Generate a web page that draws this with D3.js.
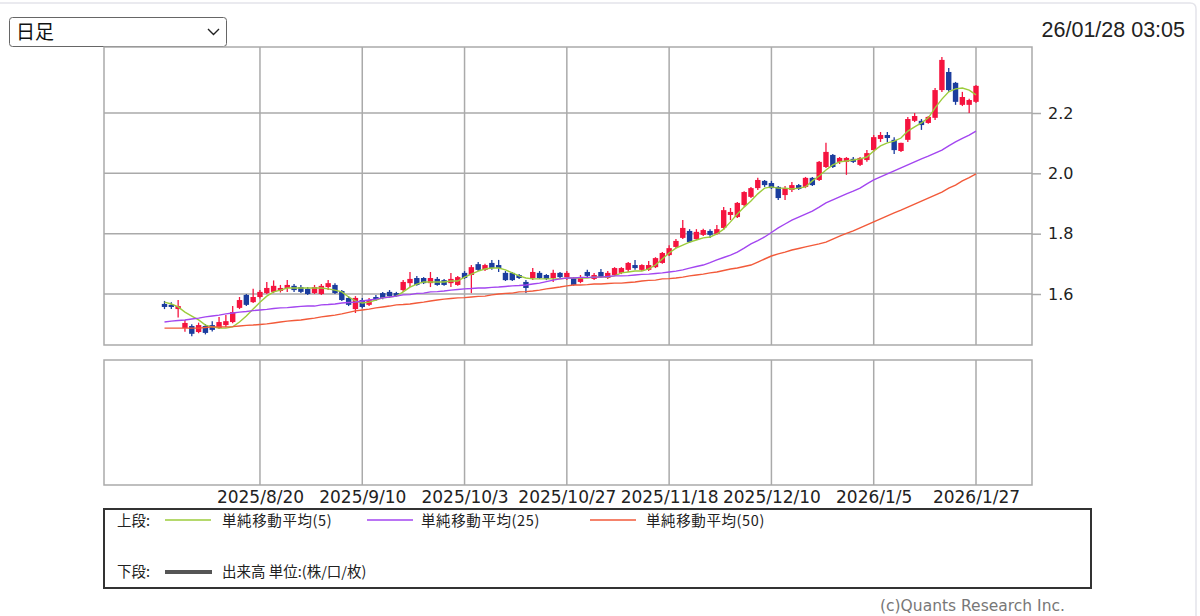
<!DOCTYPE html>
<html>
<head>
<meta charset="utf-8">
<script src="https://d3js.org/d3.v7.min.js"></script>
<title>日足チャート</title>
<style>
  body { margin: 0; background: #fff; }
</style>
</head>
<body>
<svg width="1200" height="616"></svg>
<script>
// trading days shown in the chart
const dates = [
  "2025/7/30","2025/7/31","2025/8/1","2025/8/4","2025/8/5","2025/8/6","2025/8/7","2025/8/8","2025/8/12","2025/8/13",
  "2025/8/14","2025/8/15","2025/8/18","2025/8/19","2025/8/20","2025/8/21","2025/8/22","2025/8/25","2025/8/26","2025/8/27",
  "2025/8/28","2025/8/29","2025/9/1","2025/9/2","2025/9/3","2025/9/4","2025/9/5","2025/9/8","2025/9/9","2025/9/10",
  "2025/9/11","2025/9/12","2025/9/16","2025/9/17","2025/9/18","2025/9/19","2025/9/22","2025/9/24","2025/9/25","2025/9/26",
  "2025/9/29","2025/9/30","2025/10/1","2025/10/2","2025/10/3","2025/10/6","2025/10/7","2025/10/8","2025/10/9","2025/10/10",
  "2025/10/14","2025/10/15","2025/10/16","2025/10/17","2025/10/20","2025/10/21","2025/10/22","2025/10/23","2025/10/24","2025/10/27",
  "2025/10/28","2025/10/29","2025/10/30","2025/10/31","2025/11/4","2025/11/5","2025/11/6","2025/11/7","2025/11/10","2025/11/11",
  "2025/11/12","2025/11/13","2025/11/14","2025/11/17","2025/11/18","2025/11/19","2025/11/20","2025/11/21","2025/11/25","2025/11/26",
  "2025/11/27","2025/11/28","2025/12/1","2025/12/2","2025/12/3","2025/12/4","2025/12/5","2025/12/8","2025/12/9","2025/12/10",
  "2025/12/11","2025/12/12","2025/12/15","2025/12/16","2025/12/17","2025/12/18","2025/12/19","2025/12/22","2025/12/23","2025/12/24",
  "2025/12/25","2025/12/26","2025/12/29","2025/12/30","2026/1/5","2026/1/6","2026/1/7","2026/1/8","2026/1/9","2026/1/13",
  "2026/1/14","2026/1/15","2026/1/16","2026/1/19","2026/1/20","2026/1/21","2026/1/22","2026/1/23","2026/1/26","2026/1/27"
];

const opens = [
  1.567,1.564,1.550,1.487,1.494,1.474,1.494,1.497,1.487,1.497,
  1.507,1.554,1.597,1.573,1.590,1.603,1.607,1.610,1.620,1.627,
  1.623,1.617,1.603,1.600,1.623,1.630,1.610,1.587,1.550,1.580,
  1.564,1.590,1.603,1.607,1.603,1.613,1.636,1.653,1.653,1.636,
  1.650,1.646,1.636,1.630,1.670,1.663,1.699,1.680,1.703,1.696,
  1.670,1.670,1.663,1.640,1.653,1.670,1.663,1.653,1.670,1.656,
  1.653,1.640,1.673,1.650,1.673,1.653,1.663,1.670,1.680,1.696,
  1.680,1.680,1.689,1.703,1.729,1.756,1.786,1.809,1.782,1.796,
  1.809,1.799,1.819,1.862,1.855,1.895,1.922,1.951,1.975,1.968,
  1.955,1.928,1.945,1.961,1.955,1.985,1.978,2.021,2.061,2.038,
  2.038,2.048,2.028,2.044,2.077,2.114,2.127,2.111,2.074,2.111,
  2.174,2.174,2.167,2.184,2.276,2.336,2.300,2.227,2.227,2.237
];
const highs = [
  1.577,1.573,1.580,1.514,1.500,1.505,1.500,1.510,1.524,1.530,
  1.560,1.590,1.600,1.617,1.613,1.640,1.645,1.630,1.646,1.633,
  1.630,1.623,1.630,1.633,1.646,1.636,1.613,1.593,1.593,1.587,
  1.587,1.597,1.607,1.613,1.607,1.646,1.673,1.660,1.656,1.673,
  1.656,1.650,1.670,1.660,1.676,1.696,1.706,1.700,1.713,1.713,
  1.676,1.673,1.666,1.646,1.686,1.676,1.666,1.680,1.673,1.676,
  1.656,1.663,1.680,1.670,1.683,1.676,1.689,1.689,1.706,1.713,
  1.699,1.709,1.722,1.739,1.762,1.782,1.845,1.815,1.815,1.816,
  1.815,1.829,1.888,1.885,1.905,1.941,1.955,1.985,1.978,1.975,
  1.958,1.958,1.971,1.965,1.988,1.988,2.041,2.101,2.064,2.054,
  2.054,2.054,2.054,2.077,2.127,2.137,2.137,2.120,2.101,2.187,
  2.200,2.180,2.190,2.283,2.386,2.349,2.303,2.270,2.247,2.293
];
const lows = [
  1.550,1.550,1.522,1.475,1.460,1.470,1.466,1.476,1.484,1.490,
  1.503,1.550,1.560,1.570,1.585,1.600,1.603,1.605,1.607,1.607,
  1.603,1.597,1.600,1.597,1.613,1.600,1.577,1.560,1.537,1.553,
  1.560,1.577,1.583,1.587,1.590,1.607,1.623,1.627,1.633,1.623,
  1.627,1.627,1.623,1.627,1.650,1.603,1.676,1.676,1.680,1.673,
  1.643,1.643,1.650,1.603,1.646,1.650,1.646,1.640,1.653,1.646,
  1.627,1.636,1.656,1.646,1.653,1.650,1.660,1.666,1.673,1.680,
  1.676,1.676,1.686,1.700,1.726,1.752,1.782,1.769,1.779,1.792,
  1.786,1.796,1.812,1.845,1.852,1.890,1.918,1.945,1.955,1.948,
  1.912,1.912,1.938,1.945,1.951,1.958,1.975,2.018,2.018,2.031,
  1.995,2.034,2.024,2.038,2.071,2.104,2.104,2.064,2.071,2.104,
  2.170,2.144,2.164,2.177,2.270,2.270,2.227,2.223,2.200,2.233
];
const closes = [
  1.557,1.557,1.560,1.504,1.468,1.497,1.471,1.481,1.507,1.510,
  1.540,1.580,1.564,1.590,1.607,1.620,1.627,1.620,1.630,1.613,
  1.607,1.600,1.623,1.627,1.636,1.603,1.580,1.564,1.587,1.557,
  1.580,1.580,1.587,1.593,1.593,1.640,1.650,1.630,1.636,1.653,
  1.630,1.630,1.650,1.656,1.653,1.689,1.680,1.696,1.686,1.686,
  1.646,1.646,1.653,1.620,1.673,1.653,1.650,1.670,1.656,1.670,
  1.630,1.656,1.660,1.663,1.656,1.670,1.686,1.686,1.703,1.686,
  1.696,1.696,1.719,1.736,1.752,1.776,1.819,1.772,1.806,1.812,
  1.796,1.815,1.878,1.872,1.902,1.938,1.951,1.978,1.961,1.951,
  1.918,1.951,1.961,1.948,1.985,1.961,2.038,2.071,2.021,2.051,
  2.051,2.038,2.051,2.067,2.120,2.127,2.117,2.077,2.101,2.180,
  2.190,2.160,2.187,2.276,2.376,2.276,2.237,2.253,2.243,2.290
];

// moving averages
const ma5 = [
  1.573,1.567,1.557,1.540,1.527,1.514,1.497,1.491,1.487,1.487,
  1.491,1.507,1.527,1.550,1.573,1.593,1.607,1.613,1.620,1.620,
  1.620,1.620,1.620,1.620,1.617,1.613,1.607,1.590,1.577,1.570,
  1.573,1.580,1.587,1.590,1.593,1.607,1.623,1.633,1.640,1.640,
  1.640,1.640,1.643,1.643,1.656,1.666,1.676,1.683,1.686,1.686,
  1.680,1.670,1.660,1.653,1.650,1.650,1.650,1.650,1.650,1.653,
  1.653,1.653,1.653,1.656,1.656,1.656,1.660,1.670,1.673,1.676,
  1.676,1.683,1.696,1.716,1.736,1.752,1.762,1.772,1.779,1.786,
  1.789,1.799,1.815,1.839,1.865,1.888,1.908,1.932,1.951,1.955,
  1.951,1.951,1.948,1.951,1.955,1.975,1.991,2.011,2.028,2.038,
  2.041,2.044,2.048,2.054,2.074,2.091,2.101,2.107,2.117,2.140,
  2.154,2.167,2.184,2.217,2.246,2.270,2.280,2.283,2.276,2.260
];
const ma25 = [
  1.507,1.510,1.512,1.514,1.517,1.520,1.524,1.527,1.530,1.534,
  1.537,1.540,1.542,1.545,1.547,1.549,1.552,1.554,1.555,1.557,
  1.559,1.560,1.560,1.564,1.565,1.567,1.570,1.572,1.573,1.577,
  1.580,1.583,1.587,1.590,1.593,1.597,1.598,1.602,1.603,1.607,
  1.608,1.610,1.613,1.615,1.617,1.618,1.620,1.620,1.622,1.623,
  1.625,1.627,1.628,1.630,1.633,1.636,1.641,1.646,1.650,1.653,
  1.653,1.655,1.655,1.656,1.656,1.658,1.660,1.660,1.661,1.663,
  1.665,1.666,1.668,1.670,1.673,1.676,1.680,1.686,1.691,1.696,
  1.704,1.713,1.721,1.729,1.739,1.752,1.766,1.777,1.789,1.804,
  1.819,1.832,1.845,1.855,1.865,1.875,1.888,1.902,1.912,1.922,
  1.932,1.941,1.951,1.965,1.978,1.988,1.998,2.008,2.018,2.028,
  2.038,2.048,2.057,2.067,2.077,2.091,2.104,2.116,2.127,2.140
];
const ma50 = [
  1.487,1.487,1.487,1.487,1.487,1.487,1.489,1.491,1.491,1.491,
  1.492,1.494,1.496,1.497,1.499,1.501,1.504,1.507,1.510,1.512,
  1.514,1.517,1.520,1.524,1.527,1.530,1.534,1.539,1.544,1.547,
  1.550,1.554,1.557,1.560,1.564,1.565,1.567,1.570,1.573,1.577,
  1.580,1.583,1.585,1.587,1.588,1.590,1.592,1.593,1.597,1.600,
  1.602,1.603,1.607,1.608,1.610,1.613,1.617,1.620,1.623,1.627,
  1.630,1.630,1.631,1.633,1.633,1.635,1.636,1.636,1.638,1.640,
  1.643,1.645,1.646,1.650,1.651,1.653,1.656,1.660,1.663,1.666,
  1.670,1.673,1.678,1.683,1.686,1.691,1.696,1.706,1.716,1.726,
  1.733,1.739,1.746,1.751,1.756,1.761,1.766,1.772,1.782,1.792,
  1.801,1.809,1.819,1.829,1.839,1.849,1.859,1.869,1.878,1.888,
  1.898,1.908,1.918,1.928,1.938,1.951,1.961,1.975,1.986,1.998
];

const yTicks = [1.6, 1.8, 2.0, 2.2];
const xTickDates = ["2025/8/20","2025/9/10","2025/10/3","2025/10/27","2025/11/18","2025/12/10","2026/1/5","2026/1/27"];

const maSeries = [
  { name: "単純移動平均(5)",  values: ma5,  color: "#9ccc3c" },
  { name: "単純移動平均(25)", values: ma25, color: "#a346f0" },
  { name: "単純移動平均(50)", values: ma50, color: "#f25a3a" }
];

const svg = d3.select('svg');
const upColor = '#f5143f';
const downColor = '#1b3d9e';
const gridColor = '#aaaaaa';

// panel boxes
const upper = { left: 104, right: 1032, top: 47, bottom: 345 };
const lower = { left: 104, right: 1032, top: 360, bottom: 485 };

// scales
const x = d3.scalePoint().domain(dates).range([164.5, 976]);
const y = d3.scaleLinear().domain([1.6, 2.2]).range([294, 113]);

// page frame
svg.append('path')
  .attr('d', 'M0,3 H1190 Q1196,3 1196,9 V616')
  .attr('fill', 'none')
  .attr('stroke', '#e4e4ea')
  .attr('stroke-width', 1.5);

// period selector
const sel = svg.append('g');
sel.append('rect')
  .attr('x', 9.5).attr('y', 17.5).attr('width', 217).attr('height', 29)
  .attr('rx', 3).attr('fill', '#fff').attr('stroke', '#666').attr('stroke-width', 1);
sel.append('text')
  .attr('x', 16).attr('y', 39)
  .attr('font-family', '"Noto Sans CJK JP", sans-serif')
  .attr('font-size', 19).attr('fill', '#111')
  .text('日足');
sel.append('path')
  .attr('d', 'M208,29 L213.5,34.5 L219,29')
  .attr('fill', 'none').attr('stroke', '#222').attr('stroke-width', 1.4);

// timestamp
svg.append('text')
  .attr('x', 1185).attr('y', 37)
  .attr('text-anchor', 'end')
  .attr('font-family', '"Liberation Sans", Arial, sans-serif')
  .attr('font-size', 21.5).attr('fill', '#222')
  .text('26/01/28 03:05');

// panel frames
[upper, lower].forEach(p => {
  svg.append('rect')
    .attr('x', p.left).attr('y', p.top)
    .attr('width', p.right - p.left).attr('height', p.bottom - p.top)
    .attr('fill', '#fff').attr('stroke', gridColor).attr('stroke-width', 1.5);
});

// vertical grid lines in both panels
[upper, lower].forEach(p => {
  svg.append('g').selectAll('line').data(xTickDates).enter().append('line')
    .attr('x1', d => x(d)).attr('x2', d => x(d))
    .attr('y1', p.top).attr('y2', p.bottom)
    .attr('stroke', gridColor).attr('stroke-width', 1.5);
});

// horizontal grid lines
svg.append('g').selectAll('line').data(yTicks).enter().append('line')
  .attr('x1', upper.left).attr('x2', upper.right)
  .attr('y1', d => y(d)).attr('y2', d => y(d))
  .attr('stroke', gridColor).attr('stroke-width', 1.5);

// price axis on the right
const yAxis = svg.append('g')
  .attr('transform', `translate(${upper.right},0)`)
  .call(d3.axisRight(y).tickValues(yTicks).tickSize(9).tickPadding(7).tickFormat(d3.format('.1f')));
yAxis.select('.domain').remove();
yAxis.selectAll('line').attr('stroke', gridColor).attr('stroke-width', 1.5);
yAxis.selectAll('text')
  .attr('font-family', '"DejaVu Sans", sans-serif')
  .attr('font-size', 16).attr('fill', '#222');

// date axis below the lower panel
const xAxis = svg.append('g')
  .attr('transform', 'translate(0,491)')
  .call(d3.axisBottom(x).tickValues(xTickDates).tickSize(0).tickPadding(0));
xAxis.select('.domain').remove();
xAxis.selectAll('text')
  .attr('font-family', '"DejaVu Sans", sans-serif')
  .attr('font-size', 17).attr('fill', '#222');

// clip to the upper panel
svg.append('clipPath').attr('id', 'clipUpper')
  .append('rect')
  .attr('x', upper.left).attr('y', upper.top)
  .attr('width', upper.right - upper.left).attr('height', upper.bottom - upper.top);

const plot = svg.append('g').attr('clip-path', 'url(#clipUpper)');

// candlesticks
const candles = dates.map((d, i) => ({ date: d, o: opens[i], h: highs[i], l: lows[i], c: closes[i] }));
const bodyW = 5.4;
const cg = plot.append('g').selectAll('g').data(candles).enter().append('g');
cg.append('line')
  .attr('x1', d => x(d.date)).attr('x2', d => x(d.date))
  .attr('y1', d => y(d.h)).attr('y2', d => y(d.l))
  .attr('stroke', d => d.c >= d.o ? upColor : downColor)
  .attr('stroke-width', 1.3);
cg.append('rect')
  .attr('x', d => x(d.date) - bodyW / 2)
  .attr('width', bodyW)
  .attr('y', d => y(Math.max(d.o, d.c)))
  .attr('height', d => Math.max(1.5, Math.abs(y(d.o) - y(d.c))))
  .attr('fill', d => d.c >= d.o ? upColor : downColor);

// moving average lines
const line = d3.line()
  .x((d, i) => x(dates[i]))
  .y(d => y(d))
  .curve(d3.curveLinear);
plot.append('g').selectAll('path').data(maSeries).enter().append('path')
  .attr('d', d => line(d.values))
  .attr('fill', 'none')
  .attr('stroke', d => d.color)
  .attr('stroke-width', 1.4);

// legend box
const lg = svg.append('g')
  .attr('font-family', '"Noto Sans CJK JP", sans-serif')
  .attr('font-size', 14.5).attr('fill', '#222');
lg.append('rect')
  .attr('x', 104).attr('y', 509).attr('width', 987).attr('height', 79)
  .attr('fill', 'none').attr('stroke', '#333').attr('stroke-width', 2);
lg.append('text').attr('x', 117).attr('y', 526).text('上段:');
const legendX = [[165, 222], [367, 421], [590, 646]];
maSeries.forEach((s, i) => {
  lg.append('line')
    .attr('x1', legendX[i][0]).attr('x2', legendX[i][0] + 46)
    .attr('y1', 520).attr('y2', 520)
    .attr('stroke', s.color).attr('stroke-width', 1.5);
  lg.append('text').attr('x', legendX[i][1]).attr('y', 526)
    .attr('letter-spacing', 0.6).text(s.name);
});
lg.append('text').attr('x', 117).attr('y', 577).text('下段:');
lg.append('line')
  .attr('x1', 165).attr('x2', 212).attr('y1', 572).attr('y2', 572)
  .attr('stroke', '#555').attr('stroke-width', 4);
lg.append('text').attr('x', 222).attr('y', 577).text('出来高 単位:(株/口/枚)');

// copyright
svg.append('text')
  .attr('x', 880).attr('y', 611)
  .attr('font-family', '"DejaVu Sans", sans-serif')
  .attr('font-size', 15.5).attr('fill', '#777')
  .text('(c)Quants Research Inc.');
</script>
</body>
</html>
